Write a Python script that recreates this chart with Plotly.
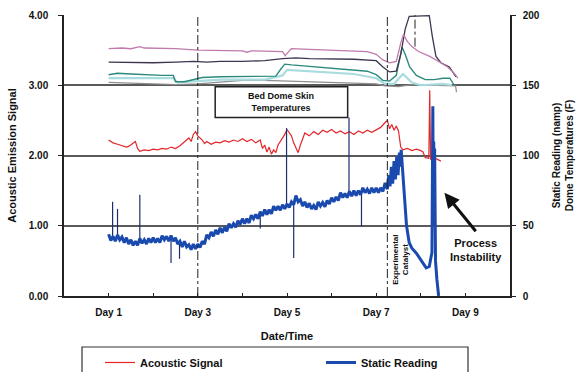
import plotly.graph_objects as go

# ---------------- data ----------------
tick_days = [1, 3, 5, 7, 9]
tick_text = ["Day 1", "Day 3", "Day 5", "Day 7", "Day 9"]

# Acoustic emission signal (left axis)
acoustic_day = [1.0, 1.05, 1.1, 1.2, 1.3, 1.4, 1.45, 1.55, 1.6, 1.65, 1.7, 1.8, 1.9, 2.0, 2.1, 2.2, 2.3,
                2.4, 2.5, 2.6, 2.7, 2.8, 2.85, 2.9, 2.95, 3.0, 3.1, 3.15, 3.2, 3.3, 3.4, 3.5, 3.6, 3.7,
                3.8, 3.9, 4.0, 4.1, 4.2, 4.3, 4.4, 4.45, 4.5, 4.55, 4.6, 4.65, 4.7, 4.75, 4.8, 4.85,
                4.9, 4.95, 5.0, 5.05, 5.1, 5.15, 5.2, 5.25, 5.3, 5.35, 5.4, 5.5, 5.6, 5.7, 5.8, 5.9,
                6.0, 6.1, 6.2, 6.3, 6.4, 6.5, 6.6, 6.7, 6.8, 6.9, 7.0, 7.1, 7.2, 7.25, 7.3, 7.35, 7.4,
                7.45, 7.5, 7.55, 7.6, 7.7, 7.8, 7.9, 8.0, 8.05, 8.1, 8.18, 8.2, 8.22, 8.3, 8.4, 8.45]
acoustic_val = [2.22, 2.2, 2.18, 2.16, 2.14, 2.12, 2.13, 2.18, 2.2, 2.1, 2.06, 2.08, 2.07, 2.09, 2.08, 2.1, 2.09,
                2.12, 2.1, 2.14, 2.2, 2.25, 2.2, 2.3, 2.34, 2.28, 2.22, 2.17, 2.2, 2.16, 2.19, 2.18, 2.21, 2.19,
                2.22, 2.2, 2.24, 2.2, 2.23, 2.18, 2.22, 2.1, 2.15, 2.05, 2.12, 2.02, 2.08, 2.04, 2.15, 2.2,
                2.25, 2.3, 2.37, 2.32, 2.28, 2.18, 2.1, 2.04, 2.15, 2.25, 2.32, 2.28, 2.34, 2.3, 2.36, 2.33,
                2.37, 2.32, 2.35, 2.31, 2.34, 2.3, 2.35, 2.32, 2.36, 2.33, 2.37, 2.4, 2.47, 2.5, 2.38, 2.44, 2.36,
                2.42, 2.35, 2.12, 2.08, 2.1, 2.07, 2.09, 2.07, 2.05, 1.97, 1.96, 2.93, 1.95, 1.97, 1.93, 1.92]

# Static reading (right axis, namp) -- noisy band
static_day = [1.00, 1.05, 1.10, 1.15, 1.20, 1.25, 1.30, 1.35, 1.40, 1.45, 1.50, 1.55, 1.60, 1.65, 1.70,
              1.75, 1.80, 1.85, 1.90, 1.95, 2.00, 2.05, 2.10, 2.15, 2.20, 2.25, 2.30, 2.35, 2.40, 2.45,
              2.50, 2.55, 2.60, 2.65, 2.70, 2.75, 2.80, 2.85, 2.90, 2.95, 3.00, 3.05, 3.10, 3.15, 3.20,
              3.25, 3.30, 3.35, 3.40, 3.45, 3.50, 3.55, 3.60, 3.65, 3.70, 3.75, 3.80, 3.85, 3.90, 3.95,
              4.00, 4.05, 4.10, 4.15, 4.20, 4.25, 4.30, 4.35, 4.40, 4.45, 4.50, 4.55, 4.60, 4.65, 4.70,
              4.75, 4.80, 4.85, 4.90, 4.95, 5.00, 5.05, 5.10, 5.15, 5.20, 5.25, 5.30, 5.35, 5.40, 5.45,
              5.50, 5.55, 5.60, 5.65, 5.70, 5.75, 5.80, 5.85, 5.90, 5.95, 6.00, 6.05, 6.10, 6.15, 6.20,
              6.25, 6.30, 6.35, 6.40, 6.45, 6.50, 6.55, 6.60, 6.65, 6.70, 6.75, 6.80, 6.85, 6.90, 6.95,
              7.00, 7.05, 7.10, 7.15, 7.20, 7.25, 7.28, 7.31, 7.34, 7.37, 7.40, 7.43, 7.46, 7.49, 7.52,
              7.54, 7.56, 7.60, 7.63, 7.68, 7.74, 7.80, 7.90, 8.00, 8.12, 8.19, 8.25, 8.27, 8.28, 8.29,
              8.30, 8.31, 8.33, 8.36, 8.40]
static_val = [44, 39.5, 42.5, 39, 43.5, 40, 42, 38, 41.5, 37, 40, 36, 39, 36, 41,
              37.5, 40, 37, 41, 38, 41.5, 38, 41, 38, 43, 40, 42.5, 39, 43, 39,
              41.5, 37, 39, 35, 39, 35, 36.5, 33, 37, 33.5, 37, 34.5, 39, 37, 43.5,
              41.5, 45.5, 42.5, 47, 44, 48.5, 45, 49, 46, 51.5, 48.5, 51.5, 49, 53.5, 51,
              55, 51.5, 55, 52, 57.5, 55, 58, 55, 60, 57, 61.5, 58, 61.5, 58.5, 64,
              61, 64, 61, 65, 62, 65.5, 63, 67, 65, 71.5, 67, 68.5, 64, 67, 63,
              66, 62, 64.5, 61.5, 67, 64, 66.5, 63.5, 68, 65.5, 70, 67, 70.5, 68, 73.5,
              70, 73, 70, 74.5, 71, 75, 71.5, 75, 72, 77, 73.5, 76, 73, 77, 73.5,
              77, 73.5, 77, 74.5, 80.5, 76, 86, 78, 92, 80, 96, 83, 99, 86, 102,
              92, 104, 88, 72, 50, 38, 34, 30.5, 26, 20, 21, 31, 135, 50, 110,
              60, 105, 25, 12, 0]

# isolated spikes in the static reading
spike_day = [1.09, 1.2, 1.7, 2.4, 2.59, 4.4, 4.99, 5.15, 6.39, 6.67]
spike_base = [42, 41, 38.5, 41, 38.5, 58, 63.5, 67, 72.5, 74]
spike_tip = [67, 62, 72, 23.5, 26.5, 48, 119.5, 27, 127, 49.5]

# Bed dome skin temperatures (right axis, F)
pink_day = [1.0, 1.3, 1.5, 1.7, 1.8, 2.0, 2.5, 3.0, 3.5, 4.0, 4.1, 4.2, 4.9, 4.96, 5.05, 5.1, 5.5, 6.0,
            6.5, 6.8, 7.0, 7.15, 7.3, 7.45, 7.55, 7.61, 7.7, 7.8, 7.95, 8.2, 8.45, 8.6, 8.75, 8.83]
pink_val = [176, 176.5, 176, 177.5, 176.5, 176.5, 176, 175, 174.5, 174.5, 173.5, 174.5, 174, 171, 174.5, 176,
            175.5, 175, 174.5, 174, 172, 168, 166, 167, 180, 186, 181, 177.5, 174, 170.5, 166, 163, 158.5, 155]

purple_day = [1.0, 1.5, 2.0, 2.5, 2.9, 3.2, 3.5, 4.0, 4.5, 4.9, 5.2, 5.5, 6.0, 6.5, 7.0, 7.15, 7.3, 7.45,
              7.55, 7.65, 7.74, 8.19, 8.26, 8.34, 8.45, 8.64, 8.79]
purple_val = [166.5, 166, 166, 166.5, 167, 166.5, 167, 167, 167.5, 169, 169.5, 169, 169, 168.5, 167.5, 163,
              159.5, 160, 172, 190, 199, 199.5, 184.5, 170.5, 166, 163, 156]

teal_day = [1.0, 1.2, 1.5, 1.8, 2.2, 2.45, 2.5, 2.7, 2.9, 3.1, 3.5, 4.0, 4.5, 4.75, 4.85, 4.95, 5.1, 5.5,
            6.0, 6.5, 6.8, 7.0, 7.15, 7.3, 7.45, 7.58, 7.65, 7.75, 7.9, 8.1, 8.3, 8.5, 8.65, 8.75]
teal_val = [157.5, 158.5, 158, 157.5, 157, 157, 152.5, 152.5, 154, 155.5, 156, 156, 156, 156.5, 161, 165,
            164.5, 163.5, 162, 161, 160, 157.5, 153.5, 153, 157, 177, 172, 163, 157, 154, 154, 155, 155, 150]

cyan_day = [1.0, 1.5, 2.0, 2.45, 2.55, 3.0, 3.5, 4.5, 4.9, 5.0, 5.5, 6.0, 6.5, 7.0, 7.2, 7.4, 7.6, 7.8,
            8.0, 8.5, 8.7]
cyan_val = [155, 155, 155, 155, 152, 153, 154, 154, 157, 161, 160, 159, 158, 155, 151, 151, 158, 152,
            150, 151, 150]

gray_day = [1.0, 1.5, 2.0, 2.5, 3.0, 3.5, 4.0, 4.5, 5.0, 5.5, 6.0, 6.5, 7.0, 7.2, 7.5, 7.8, 8.2, 8.5,
            8.78, 8.8]
gray_val = [152, 151.5, 151, 150.5, 151, 152.5, 153.5, 153.5, 153, 153, 152.5, 152, 151, 149.5, 149,
            150.5, 150, 149.5, 149.5, 145]

catalyst_day = 7.25
event_day = 7.87

# ---------------- figure ----------------
FONT = "Liberation Sans, Arial, sans-serif"
fig = go.Figure()

temp_series = [
    (gray_day, gray_val, "#8e8e8e", 1.2),
    (cyan_day, cyan_val, "#a9dce0", 2.2),
    (teal_day, teal_val, "#2b8a7c", 1.4),
    (purple_day, purple_val, "#3f3550", 1.3),
    (pink_day, pink_val, "#c07aab", 1.3),
]
for d, v, c, w in temp_series:
    fig.add_trace(go.Scatter(x=d, y=v, yaxis="y2", mode="lines", line=dict(color=c, width=w),
                             showlegend=False, hoverinfo="skip"))

fig.add_trace(go.Scatter(x=acoustic_day, y=acoustic_val, mode="lines", name="Acoustic Signal",
                         line=dict(color="#e3262a", width=1.2), legend="legend"))

sx, sy = [], []
for d, b, t in zip(spike_day, spike_base, spike_tip):
    sx += [d, d, None]
    sy += [b, t, None]
fig.add_trace(go.Scatter(x=sx, y=sy, yaxis="y2", mode="lines", line=dict(color="#1b2f6e", width=1.2),
                         showlegend=False, hoverinfo="skip"))

fig.add_trace(go.Scatter(x=static_day, y=static_val, yaxis="y2", mode="lines", name="Static Reading",
                         line=dict(color="#1a4aae", width=3), legend="legend2"))

# vertical dashed markers
fig.add_shape(type="line", x0=3, x1=3, y0=0, y1=4, xref="x", yref="y",
              line=dict(color="#222", width=1, dash="dashdot"))
fig.add_shape(type="line", x0=catalyst_day, x1=catalyst_day, y0=0, y1=4, xref="x", yref="y",
              line=dict(color="#222", width=1, dash="dashdot"))
fig.add_shape(type="line", x0=event_day, x1=event_day, y0=3.55, y1=4, xref="x", yref="y",
              line=dict(color="#222", width=1, dash="dashdot"))

# label box
fig.add_shape(type="rect", x0=3.39, x1=6.36, y0=2.54, y1=2.98, xref="x", yref="y",
              line=dict(color="#222", width=1.5), fillcolor="white", layer="above")
fig.add_annotation(x=4.875, y=2.76, xref="x", yref="y", showarrow=False,
                   text="Bed Dome Skin<br>Temperatures", font=dict(family=FONT, size=9, color="#111", weight="bold"))

fig.add_annotation(x=7.54, y=0.52, xref="x", yref="y", showarrow=False, textangle=-90,
                   text="Experimental<br>Catalyst", font=dict(family=FONT, size=8, color="#111", weight="bold"))

fig.add_annotation(x=8.53, y=1.47, ax=9.26, ay=0.9, xref="x", yref="y", axref="x", ayref="y",
                   showarrow=True, arrowhead=2, arrowsize=1, arrowwidth=3, arrowcolor="#111", text="")
fig.add_annotation(x=9.23, y=0.66, xref="x", yref="y", showarrow=False,
                   text="Process<br>Instability", font=dict(family=FONT, size=11, color="#111", weight="bold"))

# legend frame
fig.add_shape(type="rect", xref="paper", yref="paper",
              x0=(82 - 64) / 446, x1=(468 - 64) / 446, y0=(296 - 385) / 281, y1=(296 - 347) / 281,
              line=dict(color="#333", width=1.2), fillcolor="rgba(0,0,0,0)")

legend_font = dict(family=FONT, size=11, color="#111", weight="bold")
fig.update_layout(
    width=578, height=372,
    margin=dict(l=64, r=68, t=15, b=76, autoexpand=False),
    paper_bgcolor="white", plot_bgcolor="white",
    font=dict(family=FONT, size=10, color="#111", weight="bold"),
    showlegend=True,
    legend=dict(orientation="h", x=(100 - 64) / 446, xanchor="left", y=(296 - 348) / 281, yanchor="top",
                bgcolor="rgba(0,0,0,0)", borderwidth=0, font=legend_font),
    legend2=dict(orientation="h", x=(321 - 64) / 446, xanchor="left", y=(296 - 348) / 281, yanchor="top",
                 bgcolor="rgba(0,0,0,0)", borderwidth=0, font=legend_font),
    xaxis=dict(range=[0, 10], tickvals=tick_days, ticktext=tick_text, showgrid=False, zeroline=False,
               showline=True, linecolor="#222", linewidth=1.5, ticks="inside", ticklen=3, tickcolor="#222",
               minor=dict(tick0=0, dtick=1, ticks="inside", ticklen=3, tickcolor="#222"),
               ticklabelstandoff=6, tickfont=dict(size=10),
               title=dict(text="Date/Time", font=dict(size=11), standoff=16)),
    yaxis=dict(range=[0, 4], dtick=1, tickformat=".2f", showgrid=True, gridcolor="#5a5a5a", gridwidth=1.6,
               zeroline=False, showline=True, linecolor="#222", linewidth=1.5, ticks="outside", ticklen=4,
               tickcolor="#222", ticklabelstandoff=8, tickfont=dict(size=10),
               title=dict(text="Acoustic Emission Signal", font=dict(size=11), standoff=10)),
    yaxis2=dict(range=[0, 200], dtick=50, overlaying="y", side="right", showgrid=False, zeroline=False,
                showline=True, linecolor="#222", linewidth=1.5, ticks="outside", ticklen=4, tickcolor="#222",
                ticklabelstandoff=5, tickfont=dict(size=10),
                title=dict(text="Static Reading (namp)<br>Dome Temperatures (F)", font=dict(size=10), standoff=14)),
)

fig.write_html("out.html", config={"displayModeBar": False},
               post_script="document.body.style.margin='0';document.body.style.padding='0';")
